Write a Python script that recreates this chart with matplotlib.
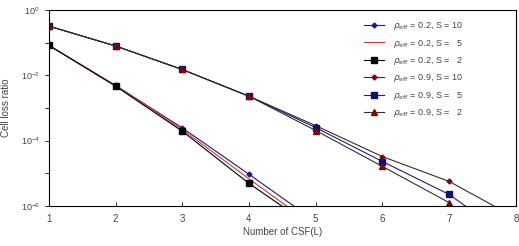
import numpy as np
import matplotlib
matplotlib.use("Agg")
import matplotlib.pyplot as plt
from matplotlib.ticker import NullFormatter, FixedLocator

# log10 of cell loss ratio (last point lies below the axis)
x_low = [1, 2, 3, 4, 5]
low_s10 = [-1.08, -2.31, -3.61, -5.03, -6.48]
low_s5 = [-1.08, -2.31, -3.66, -5.17, -6.65]
low_s2 = [-1.08, -2.33, -3.71, -5.31, -6.72]

x_high = [1, 2, 3, 4, 5, 6, 7, 8]
high_s10 = [-0.49, -1.10, -1.82, -2.64, -3.54, -4.49, -5.25, -6.37]
high_s5 = [-0.49, -1.10, -1.82, -2.64, -3.60, -4.64, -5.65, -7.11]
high_s2 = [-0.49, -1.10, -1.82, -2.64, -3.69, -4.79, -5.90, -7.90]

labels = [r"$\rho_{\rm eff}$ = 0.2, S = 10",
          r"$\rho_{\rm eff}$ = 0.2, S =   5",
          r"$\rho_{\rm eff}$ = 0.2, S =   2",
          r"$\rho_{\rm eff}$ = 0.9, S = 10",
          r"$\rho_{\rm eff}$ = 0.9, S =   5",
          r"$\rho_{\rm eff}$ = 0.9, S =   2"]

plt.rcParams["font.family"] = ["Liberation Sans", "DejaVu Sans"]
plt.rcParams["mathtext.fontset"] = "dejavusans"
TXT = "#444444"

fig = plt.figure(figsize=(5.19, 2.46), dpi=100)
ax = fig.add_axes([0.094, 0.163, 0.900, 0.796])

def p(v):
    return [10.0 ** t for t in v]

ax.plot(x_low, p(low_s10), color="#1c1c8c", lw=0.8, marker="D", ms=2.5, label=labels[0])
ax.plot(x_low, p(low_s5), color="#e03535", lw=0.8, label=labels[1])
ax.plot(x_low, p(low_s2), color="black", lw=0.8, marker="s", ms=5, label=labels[2])
ax.plot(x_high, p(high_s10), color="#303030", lw=0.8, marker="D", ms=2.5,
        mfc="#8b0000", mec="#8b0000", label=labels[3])
ax.plot(x_high, p(high_s5), color="#1c1c8c", lw=0.8, marker="s", ms=5,
        mfc="#10107a", mec="#10107a", label=labels[4])
ax.plot(x_high, p(high_s2), color="#303030", lw=0.8, marker="^", ms=4,
        mfc="#8b0000", mec="#8b0000", label=labels[5])

ax.set_yscale("log")
ax.set_ylim(1e-6, 1)
ax.set_xlim(1, 8)
ax.yaxis.set_major_locator(FixedLocator([1e-6, 1e-4, 1e-2, 1]))
ax.yaxis.set_minor_locator(FixedLocator([1e-5, 1e-3, 1e-1]))
ax.yaxis.set_minor_formatter(NullFormatter())
ax.set_xticks(range(1, 9))

ax.tick_params(axis="y", which="both", direction="out", length=3, width=0.6,
               labelsize=6.5, labelcolor=TXT)
ax.tick_params(axis="x", direction="in", length=3, width=0.6, labelsize=7,
               labelcolor=TXT, pad=6)
for s in ax.spines.values():
    s.set_linewidth(0.8)

ax.set_xlabel("Number of CSF(L)", fontsize=7, color=TXT, labelpad=2)
ax.set_ylabel("Cell loss ratio", fontsize=7, color=TXT, labelpad=7)

ax.legend(loc="upper right", bbox_to_anchor=(0.905, 0.99), frameon=False,
          fontsize=6.5, handlelength=2.2, labelspacing=0.6, handletextpad=1.0,
          labelcolor=TXT)

fig.savefig("out.png", dpi=100)
